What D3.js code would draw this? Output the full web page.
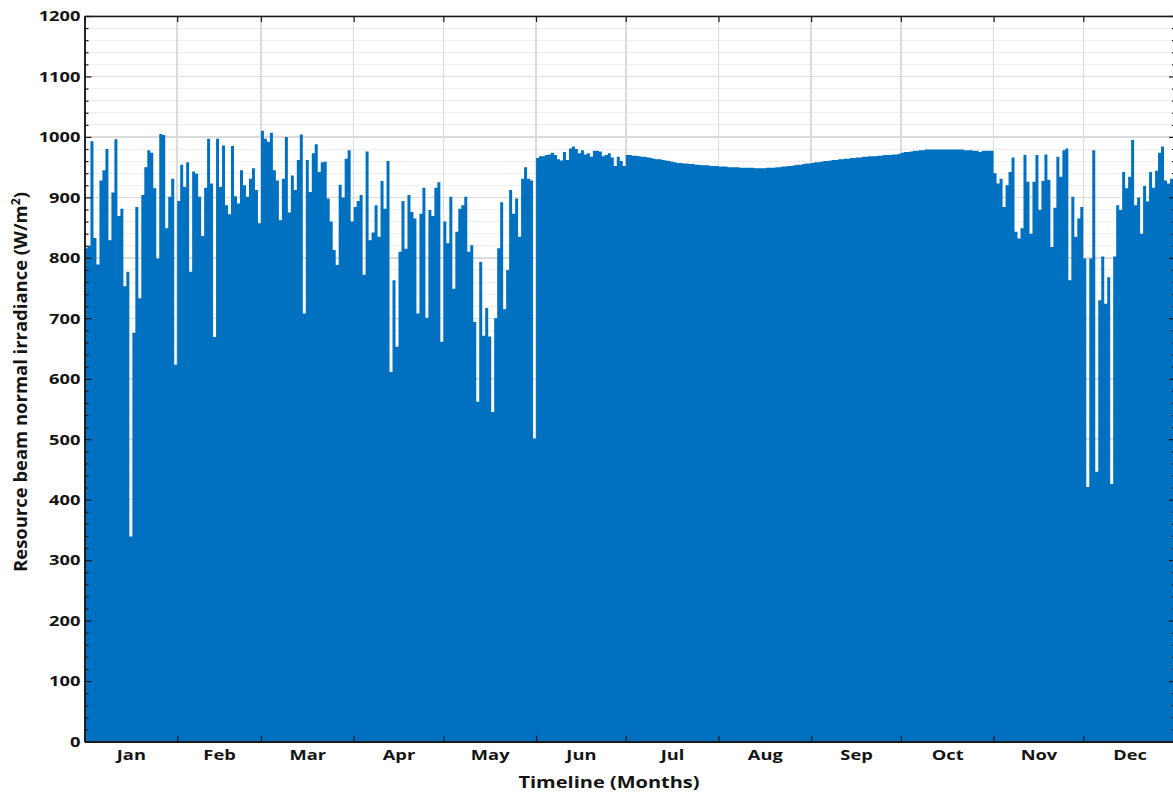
<!DOCTYPE html>
<html><head><meta charset="utf-8">
<script src="https://cdn.jsdelivr.net/npm/d3@7"></script>
<style>body{margin:0;background:#fff;} svg{display:block;}</style>
</head><body><svg id="chart" width="1173" height="792"></svg>
<script>
const monthNames = ["Jan","Feb","Mar","Apr","May","Jun","Jul","Aug","Sep","Oct","Nov","Dec"];
const monthLengths = [31,28,31,30,31,30,31,31,30,31,30,31];
const yTickValues = [0,100,200,300,400,500,600,700,800,900,1000,1100,1200];

const jan = [816,820,993,833,789,928,945,980,829,908,996,869,881,753,777,339,676,884,733,904,950,978,974,915,799,1005,1003,849,901,931,623];
const feb = [894,954,917,958,777,943,939,901,836,916,997,923,669,997,917,986,887,872,985,902,890,945,920,901,931,948,912,857];
const mar = [1010,997,992,1007,945,928,862,931,1000,875,936,912,962,1004,708,962,909,973,988,942,958,959,898,860,813,788,921,900,964,978,860];
const apr = [884,894,904,772,976,829,842,887,835,927,881,960,611,763,653,810,894,815,904,876,865,708,873,916,701,879,869,916,925,661];
const may = [860,824,901,749,843,881,887,901,810,821,694,562,793,671,717,670,545,700,816,892,715,780,912,873,898,835,931,950,931,928,501];
const jun = [965,968,968,970,971,974,970,963,961,975,962,981,984,980,973,978,971,973,967,977,977,976,968,970,973,966,952,967,960,952];
const jul = [970,970,969,969,968,967,967,966,965,964,963,963,962,961,960,959,958,957,957,956,956,955,955,954,954,953,953,953,952,952,952];
const aug = [951,951,951,950,950,950,950,949,949,949,949,949,948,948,948,948,949,949,949,950,950,951,951,952,952,953,954,954,955,956,956];
const sep = [957,958,958,959,960,960,961,962,962,963,963,964,964,965,965,966,966,967,967,968,968,968,969,969,970,970,970,971,971,972];
const oct = [974,975,975,976,977,977,978,978,979,979,979,979,979,979,979,979,979,979,979,979,979,978,978,978,977,977,975,977,977,977,977];
const nov = [940,923,931,884,920,942,966,843,832,849,970,926,840,926,970,879,927,971,929,818,883,967,934,978,981,763,901,835,865,884];
const dec = [799,421,799,978,446,730,802,724,768,426,802,887,879,942,915,934,995,887,900,840,919,893,942,916,944,974,984,928,923,931,868];

const values = [].concat(jan,feb,mar,apr,may,jun,jul,aug,sep,oct,nov,dec);
const bounds = [0];
monthLengths.forEach(n => bounds.push(bounds[bounds.length-1] + n));
const mids = monthLengths.map((n,i) => bounds[i] + n/2);
const nDays = values.length;

const svg = d3.select("#chart");
svg.append("rect").attr("width",1173).attr("height",792).attr("fill","#fff");

const x = d3.scaleLinear().domain([0, nDays]).range([84.5, 1176]);
const y = d3.scaleLinear().domain([0, 1200]).range([741.5, 16]);
const SX = 1.22;
const fontFam = "'Open Sans', 'DejaVu Sans', sans-serif";

// gridlines
const yMinor = d3.range(0, 1201, 20).filter(v => v % 100 !== 0);
const grid = svg.append("g").attr("shape-rendering","crispEdges");
grid.selectAll("line.minor").data(yMinor).join("line").attr("class","minor")
  .attr("x1", x(0)).attr("x2", x(nDays)).attr("y1", d => y(d)).attr("y2", d => y(d))
  .attr("stroke", "#eeeeee").attr("stroke-width", 1);
grid.selectAll("line.major").data(yTickValues).join("line").attr("class","major")
  .attr("x1", x(0)).attr("x2", x(nDays)).attr("y1", d => y(d)).attr("y2", d => y(d))
  .attr("stroke", "#dcdcdc").attr("stroke-width", 1.5);
grid.selectAll("line.vert").data(bounds.slice(1, -1)).join("line").attr("class","vert")
  .attr("x1", d => x(d)).attr("x2", d => x(d)).attr("y1", y(1200)).attr("y2", y(0))
  .attr("stroke", "#dcdcdc").attr("stroke-width", 1.5);

// area (daily step)
const pts = values.map((v, i) => [i, v]);
pts.push([nDays, values[nDays - 1]]);
const area = d3.area()
  .x(d => x(d[0])).y0(y(0)).y1(d => y(d[1]))
  .curve(d3.curveStepAfter);
svg.append("path").datum(pts).attr("d", area).attr("fill", "#0070C0");

// axes
function styleAxis(g) {
  g.selectAll(".domain").attr("stroke", "#1a1a1a").attr("stroke-width", 1.5);
  g.selectAll(".tick line").attr("stroke", "#1a1a1a").attr("stroke-width", 1.2);
}
// left
const gL = svg.append("g").attr("transform", `translate(${x(0)},0)`)
  .call(d3.axisLeft(y).tickValues(yTickValues).tickSize(-7).tickSizeOuter(0).tickPadding(4).tickFormat(d3.format("d")));
styleAxis(gL);
gL.selectAll("text").attr("font-family", fontFam).attr("font-weight", 700).attr("font-size", 15)
  .attr("fill", "#141414").attr("x", -4 / SX).attr("transform", `scale(${SX},1)`);
const gLm = svg.append("g").attr("transform", `translate(${x(0)},0)`)
  .call(d3.axisLeft(y).tickValues(yMinor).tickSize(-4).tickSizeOuter(0).tickFormat(""));
styleAxis(gLm);
// right
const gR = svg.append("g").attr("transform", `translate(${x(nDays)},0)`)
  .call(d3.axisRight(y).tickValues(yTickValues).tickSize(-7).tickSizeOuter(0).tickFormat(""));
styleAxis(gR);
const gRm = svg.append("g").attr("transform", `translate(${x(nDays)},0)`)
  .call(d3.axisRight(y).tickValues(yMinor).tickSize(-4).tickSizeOuter(0).tickFormat(""));
styleAxis(gRm);
// bottom ticks at month boundaries
const gB = svg.append("g").attr("transform", `translate(0,${y(0)})`)
  .call(d3.axisBottom(x).tickValues(bounds).tickSize(-6).tickSizeOuter(0).tickFormat(""));
styleAxis(gB);
gB.select(".domain").attr("stroke-width", 2);
// bottom month labels
const gBl = svg.append("g").attr("transform", `translate(0,${y(0)})`)
  .call(d3.axisBottom(x).tickValues(mids).tickSize(0).tickPadding(8).tickFormat((d, i) => monthNames[i]));
gBl.select(".domain").remove();
gBl.selectAll("text").attr("font-family", fontFam).attr("font-weight", 700).attr("font-size", 15)
  .attr("fill", "#141414").attr("transform", `scale(${SX},1)`);
// top
const gT = svg.append("g").attr("transform", `translate(0,${y(1200)})`)
  .call(d3.axisTop(x).tickValues(bounds).tickSize(-6).tickSizeOuter(0).tickFormat(""));
styleAxis(gT);

// axis titles
svg.append("text").attr("transform", `translate(609,788) scale(1.25,1)`)
  .attr("text-anchor", "middle").attr("font-family", fontFam).attr("font-weight", 700)
  .attr("font-size", 16).attr("fill", "#141414").text("Timeline (Months)");
const yt = svg.append("text").attr("transform", `translate(27,382) rotate(-90) scale(1.23,1.2)`)
  .attr("text-anchor", "middle").attr("font-family", fontFam).attr("font-weight", 700)
  .attr("font-size", 15).attr("fill", "#141414");
yt.append("tspan").text("Resource beam normal irradiance (W/m");
yt.append("tspan").attr("font-size", 10).attr("dy", -6).text("2");
yt.append("tspan").attr("dy", 6).text(")");
</script></body></html>
